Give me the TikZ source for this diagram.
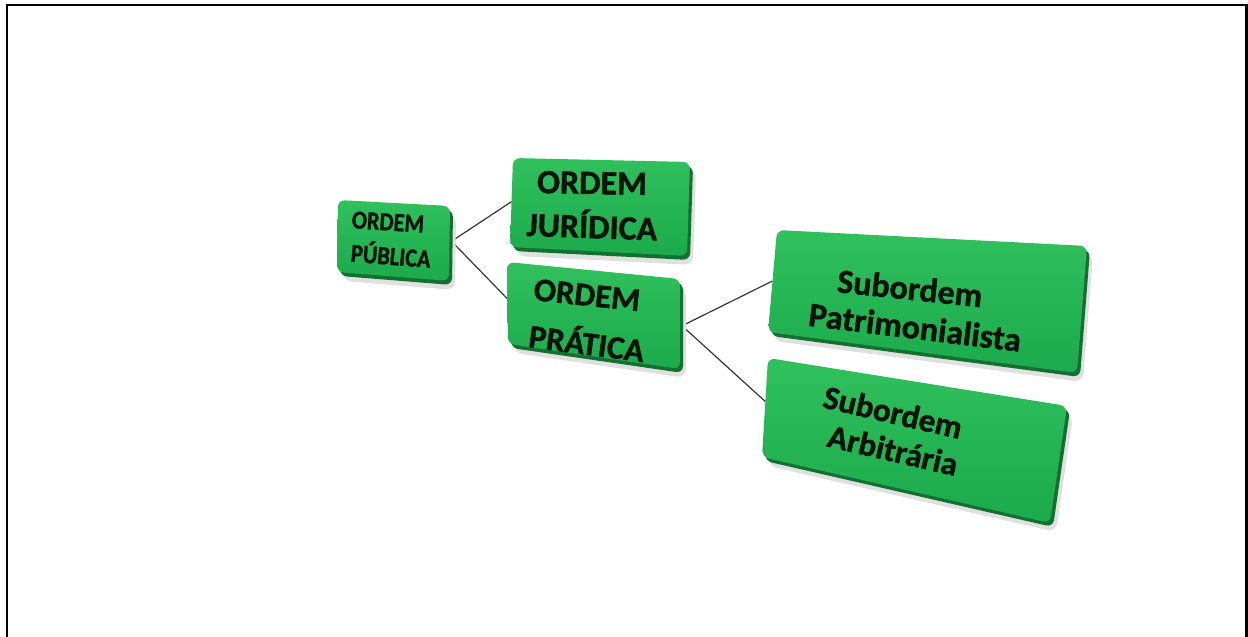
\documentclass[tikz,border=0pt]{standalone}
\usepackage{fontspec}
\setmainfont{Carlito}[BoldFeatures={FakeBold=1.3}]
\usetikzlibrary{calc}
\definecolor{sidegreen}{RGB}{18,112,48}
\definecolor{facetop}{RGB}{48,192,92}
\definecolor{facebot}{RGB}{28,170,76}
\definecolor{txtc}{RGB}{6,20,10}
\definecolor{linec}{RGB}{55,55,55}
\newcommand\gquad[1]{%
  \fill[black!12, rounded corners=9pt] ([shift={(6,9)}]#1-a) -- ([shift={(6,9)}]#1-b) -- ([shift={(6,9)}]#1-c) -- ([shift={(6,9)}]#1-d) -- cycle;
  \fill[sidegreen, rounded corners=7pt] ([shift={(3,4)}]#1-a) -- ([shift={(3,4)}]#1-b) -- ([shift={(3,4)}]#1-c) -- ([shift={(3,4)}]#1-d) -- cycle;
  \shade[top color=facetop, bottom color=facebot, rounded corners=7pt] (#1-a) -- (#1-b) -- (#1-c) -- (#1-d) -- cycle;
}
\begin{document}
\begin{tikzpicture}[x=1pt,y=-1pt,
  lbl/.style={text=txtc, inner sep=0pt},
  conn/.style={draw=linec, line width=1.2pt}]
\useasboundingbox (0,0) rectangle (1248,637);
\fill[white] (0,0) rectangle (1248,637);
\draw[line width=2.6pt] (7,650) -- (7,5) -- (1246.5,5) -- (1246.5,650);
% corners
\coordinate (pub-a) at (338,200); \coordinate (pub-b) at (450,206);
\coordinate (pub-c) at (449,281); \coordinate (pub-d) at (337,272);
\coordinate (jur-a) at (513,158); \coordinate (jur-b) at (690,162);
\coordinate (jur-c) at (687,256); \coordinate (jur-d) at (510,247);
\coordinate (pra-a) at (507,262); \coordinate (pra-b) at (680,279);
\coordinate (pra-c) at (680,369); \coordinate (pra-d) at (508,344);
\coordinate (pat-a) at (777,230); \coordinate (pat-b) at (1087,246);
\coordinate (pat-c) at (1077,373); \coordinate (pat-d) at (768,332);
\coordinate (arb-a) at (768,358); \coordinate (arb-b) at (1067,406);
\coordinate (arb-c) at (1050,523); \coordinate (arb-d) at (762,457);
% connector ends
\coordinate (pubR) at ($(pub-b)!0.47!(pub-c)+(2,0)$);
\coordinate (jurL) at ($(jur-a)!0.49!(jur-d)$);
\coordinate (praL) at ($(pra-a)!0.45!(pra-d)$);
\coordinate (praR) at ($(pra-b)!0.52!(pra-c)+(2,0)$);
\coordinate (patL) at ($(pat-a)!0.5!(pat-d)$);
\coordinate (arbL) at ($(arb-a)!0.44!(arb-d)$);
\draw[conn] (pubR) -- (jurL);
\draw[conn] (pubR) -- (praL);
\draw[conn] (praR) -- (patL);
\draw[conn] (praR) -- (arbL);
% boxes
\gquad{pub}
\gquad{jur}
\gquad{pra}
\gquad{pat}
\gquad{arb}
% labels
\node[lbl, rotate=-3.5, xscale=0.86, font=\fontsize{26}{30}\selectfont\bfseries] (pub1) at (388,222) {ORDEM};
\node[lbl, rotate=-4.5, xscale=0.86, font=\fontsize{26}{30}\selectfont\bfseries] (pub2) at (391,254) {PÚBLICA};
\node[lbl, rotate=-1, font=\fontsize{34}{40}\selectfont\bfseries] (jur1) at (592,183) {ORDEM};
\node[lbl, rotate=-2, font=\fontsize{34}{40}\selectfont\bfseries] (jur2) at (592,224) {JURÍDICA};
\node[lbl, rotate=-6, font=\fontsize{33}{45}\selectfont\bfseries] (pra1) at (587,295) {ORDEM};
\node[lbl, rotate=-7.5, font=\fontsize{33}{45}\selectfont\bfseries] (pra2) at (587,341) {PRÁTICA};
\node[lbl, rotate=-6, font=\fontsize{34}{38}\selectfont\bfseries] (pat1) at (910,288) {Subordem};
\node[lbl, rotate=-7, font=\fontsize{34}{38}\selectfont\bfseries] (pat2) at (915,327) {Patrimonialista};
\node[lbl, rotate=-13, font=\fontsize{33}{37}\selectfont\bfseries] (arb1) at (893,412) {Subordem};
\node[lbl, rotate=-13, font=\fontsize{33}{37}\selectfont\bfseries] (arb2) at (893,450) {Arbitrária};
\end{tikzpicture}
\end{document}
